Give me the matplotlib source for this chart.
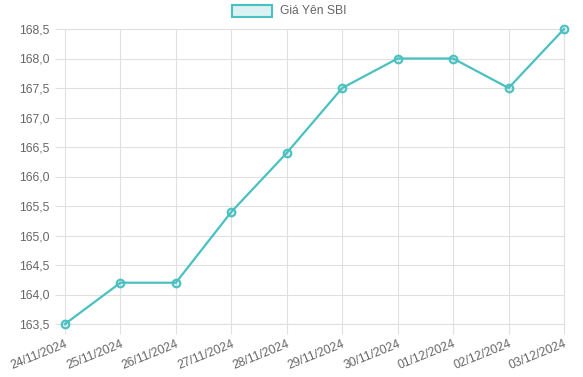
import matplotlib
matplotlib.use("Agg")
import matplotlib.pyplot as plt
from matplotlib.patches import Rectangle
from matplotlib.ticker import FuncFormatter, MultipleLocator

plt.rcParams["font.family"] = ["Liberation Sans", "DejaVu Sans"]

SERIES_NAME = "Giá Yên SBI"
dates = ["24/11/2024", "25/11/2024", "26/11/2024", "27/11/2024", "28/11/2024",
         "29/11/2024", "30/11/2024", "01/12/2024", "02/12/2024", "03/12/2024"]
prices = [163.5, 164.2, 164.2, 165.4, 166.4, 167.5, 168.0, 168.0, 167.5, 168.5]

LINE_COLOR = "#4bc0c0"
FILL_COLOR = (75 / 255, 192 / 255, 192 / 255, 0.2)
GRID_COLOR = "#e0e0e0"
TEXT_COLOR = "#666666"
FONT_SIZE = 8.7

fig = plt.figure(figsize=(5.83, 3.77), dpi=100)
ax = fig.add_axes([65 / 583, 1 - 324 / 377, (564 - 65) / 583, (324 - 29) / 377])

x = list(range(len(dates)))
ax.plot(x, prices, color=LINE_COLOR, linewidth=1.6, marker="o", markersize=5.5,
        markerfacecolor=FILL_COLOR, markeredgecolor=LINE_COLOR, markeredgewidth=1.5,
        clip_on=False, zorder=3)

ax.set_xlim(0, len(dates) - 1)
ax.set_ylim(163.5, 168.5)
ax.yaxis.set_major_locator(MultipleLocator(0.5))
ax.yaxis.set_major_formatter(FuncFormatter(lambda v, p: f"{v:.1f}".replace(".", ",")))
ax.set_xticks(x)
ax.set_xticklabels(dates, rotation=22, ha="right", rotation_mode="anchor")

ax.grid(True, color=GRID_COLOR, linewidth=0.8)
ax.set_axisbelow(True)
for s in ax.spines.values():
    s.set_color(GRID_COLOR)
    s.set_linewidth(0.8)
ax.tick_params(axis="both", colors=GRID_COLOR, labelcolor=TEXT_COLOR, labelsize=FONT_SIZE,
               length=7, width=0.8)
ax.tick_params(axis="y", pad=4)
ax.tick_params(axis="x", pad=3)

# legend like the original: coloured box then label, centred at top
box_w, box_h = 40 / 583, 12 / 377
fig.patches.append(Rectangle((232 / 583, 1 - 17 / 377), box_w, box_h,
                             transform=fig.transFigure, facecolor=FILL_COLOR,
                             edgecolor=LINE_COLOR, linewidth=1.5))
fig.text(280 / 583, 1 - 11 / 377, SERIES_NAME, color=TEXT_COLOR, fontsize=FONT_SIZE,
         va="center", ha="left")

fig.savefig("out.png", dpi=100)
